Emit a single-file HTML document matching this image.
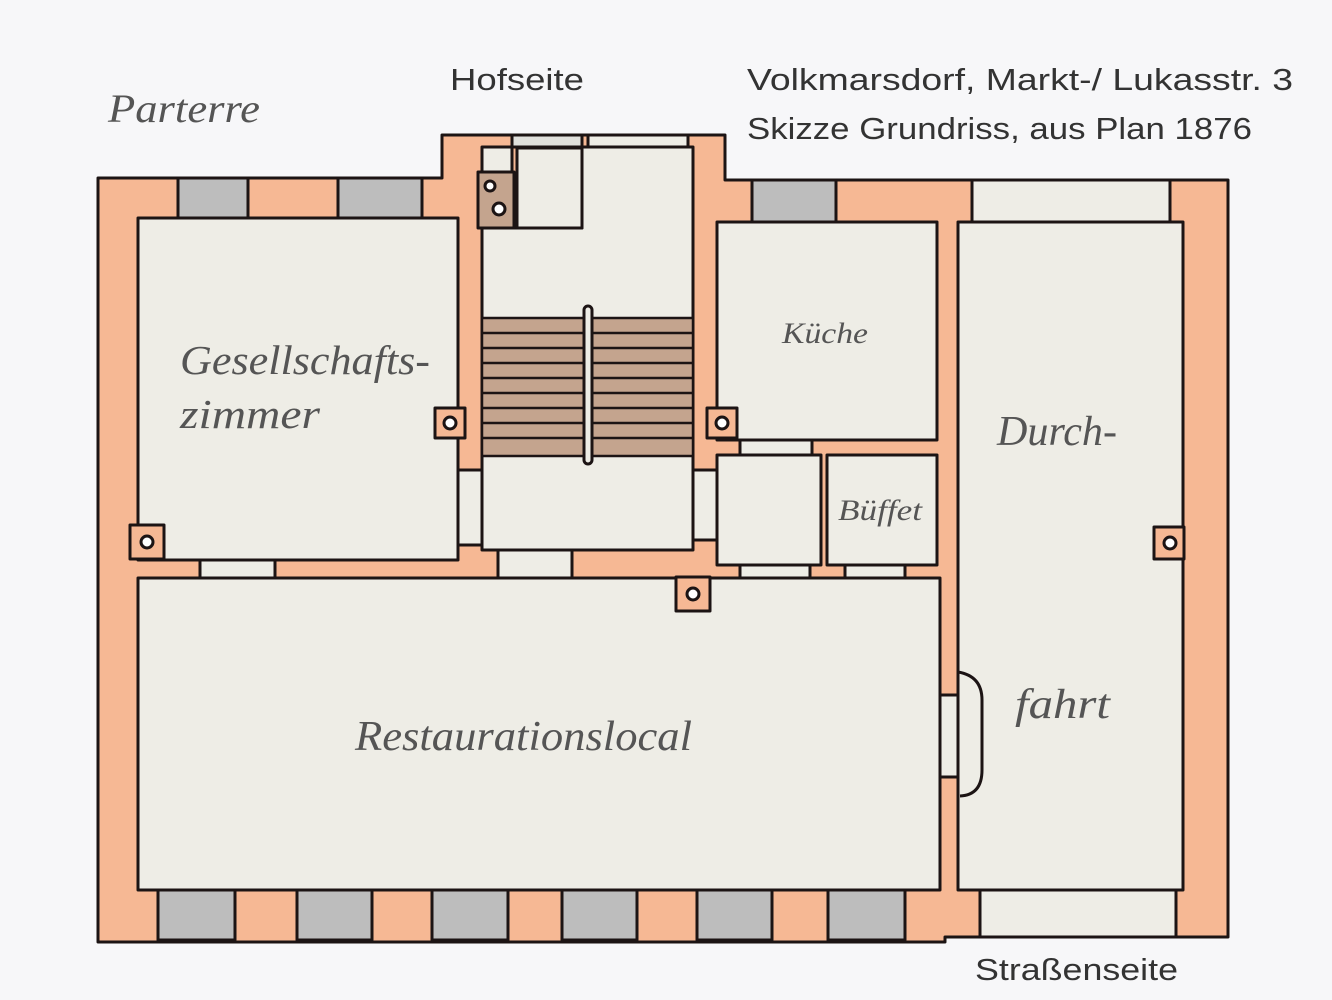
<!DOCTYPE html>
<html><head><meta charset="utf-8"><style>
html,body{margin:0;padding:0;background:#f7f7f9;}
svg{display:block}
.lbl{font-family:"Liberation Serif",serif;font-style:italic;fill:#555;}
.sans{font-family:"Liberation Sans",sans-serif;fill:#333;}
</style></head><body>
<svg width="1332" height="1000" viewBox="0 0 1332 1000" xmlns="http://www.w3.org/2000/svg">
<rect width="1332" height="1000" fill="#f7f7f9"/>
<g stroke="#1c1414" stroke-width="3" stroke-linejoin="round">
<path d="M98 178 H442 V135 H725 V180 H1228 V937 H945 V942 H98 Z" fill="#f6b894"/>
<rect x="178" y="178" width="70" height="40" fill="#bdbdbd"/>
<rect x="338" y="178" width="84" height="40" fill="#bdbdbd"/>
<rect x="752" y="180" width="84" height="42" fill="#bdbdbd"/>
<rect x="512" y="135" width="70" height="12" fill="#e0e0dc"/>
<rect x="588" y="135" width="100" height="12" fill="#eeede6"/>
<rect x="158" y="890" width="77" height="50" fill="#bdbdbd"/>
<rect x="297" y="890" width="75" height="50" fill="#bdbdbd"/>
<rect x="432" y="890" width="76" height="50" fill="#bdbdbd"/>
<rect x="562" y="890" width="75" height="50" fill="#bdbdbd"/>
<rect x="697" y="890" width="75" height="50" fill="#bdbdbd"/>
<rect x="828" y="890" width="77" height="50" fill="#bdbdbd"/>
<rect x="972" y="180" width="198" height="42" fill="#eeede6"/>
<rect x="980" y="890" width="196" height="47" fill="#eeede6"/>
<rect x="138" y="218" width="320" height="342" fill="#eeede6"/>
<path d="M482 147 H512 V228 H582 V147 H693 V550 H482 Z" fill="#eeede6"/>
<rect x="517" y="148" width="65" height="80" fill="#eeede6"/>
<rect x="478" y="172" width="36" height="56" fill="#c4a48e"/>
<rect x="717" y="222" width="220" height="218" fill="#eeede6"/>
<rect x="717" y="455" width="104" height="110" fill="#eeede6"/>
<rect x="827" y="455" width="110" height="110" fill="#eeede6"/>
<rect x="138" y="578" width="802" height="312" fill="#eeede6"/>
<rect x="958" y="222" width="225" height="668" fill="#eeede6"/>
<rect x="200" y="560" width="75" height="18" fill="#eeede6"/>
<rect x="498" y="550" width="74" height="28" fill="#eeede6"/>
<rect x="458" y="470" width="24" height="75" fill="#eeede6"/>
<rect x="693" y="470" width="24" height="70" fill="#eeede6"/>
<rect x="740" y="440" width="72" height="15" fill="#eeede6"/>
<rect x="740" y="565" width="70" height="13" fill="#eeede6"/>
<rect x="845" y="565" width="60" height="13" fill="#eeede6"/>
<rect x="940" y="695" width="18" height="82" fill="#eeede6"/>
<path d="M958 672 Q982 676 982 700 V770 Q982 795 960 796" fill="none"/>
<g fill="#c4a48e" stroke-width="2.5">
<rect x="482" y="318" width="102" height="138"/>
<rect x="592" y="318" width="101" height="138"/>
</g>
<g stroke-width="2.5">
<path d="M482 333H693M482 348H693M482 363H693M482 378H693M482 393H693M482 408H693M482 423H693M482 438H693"/>
</g>
<rect x="584" y="306" width="8" height="158" rx="4" fill="#eeede6"/>
<g fill="#f6b894">
<rect x="435" y="408" width="30" height="30"/>
<rect x="707" y="408" width="30" height="30"/>
<rect x="130" y="525" width="34" height="34"/>
<rect x="676" y="577" width="34" height="34"/>
<rect x="1154" y="527" width="30" height="32"/>
</g>
<g fill="#fff" stroke-width="3">
<circle cx="450" cy="423" r="6"/>
<circle cx="722" cy="423" r="6"/>
<circle cx="147" cy="542" r="6"/>
<circle cx="693" cy="594" r="6"/>
<circle cx="1170" cy="543" r="6"/>
<circle cx="490" cy="186" r="5"/>
<circle cx="499" cy="209" r="6"/>
</g>
</g>
<text class="lbl" x="108" y="122" font-size="40" textLength="152" lengthAdjust="spacingAndGlyphs">Parterre</text>
<text class="sans" x="450" y="90" font-size="31" textLength="134" lengthAdjust="spacingAndGlyphs">Hofseite</text>
<text class="sans" x="747" y="90" font-size="31" textLength="546" lengthAdjust="spacingAndGlyphs">Volkmarsdorf, Markt-/ Lukasstr. 3</text>
<text class="sans" x="747" y="139" font-size="31" textLength="505" lengthAdjust="spacingAndGlyphs">Skizze Grundriss, aus Plan 1876</text>
<text class="sans" x="975" y="980" font-size="31" textLength="203" lengthAdjust="spacingAndGlyphs">Straßenseite</text>
<text class="lbl" x="180" y="374" font-size="41" textLength="250" lengthAdjust="spacingAndGlyphs">Gesellschafts-</text>
<text class="lbl" x="180" y="428" font-size="41" textLength="140" lengthAdjust="spacingAndGlyphs">zimmer</text>
<text class="lbl" x="782" y="343" font-size="30" textLength="86" lengthAdjust="spacingAndGlyphs">Küche</text>
<text class="lbl" x="838" y="520" font-size="30" textLength="84" lengthAdjust="spacingAndGlyphs">Büffet</text>
<text class="lbl" x="997" y="445" font-size="42" textLength="120" lengthAdjust="spacingAndGlyphs">Durch-</text>
<text class="lbl" x="1015" y="718" font-size="42" textLength="95" lengthAdjust="spacingAndGlyphs">fahrt</text>
<text class="lbl" x="355" y="750" font-size="42" textLength="337" lengthAdjust="spacingAndGlyphs">Restaurationslocal</text>
</svg>
</body></html>
